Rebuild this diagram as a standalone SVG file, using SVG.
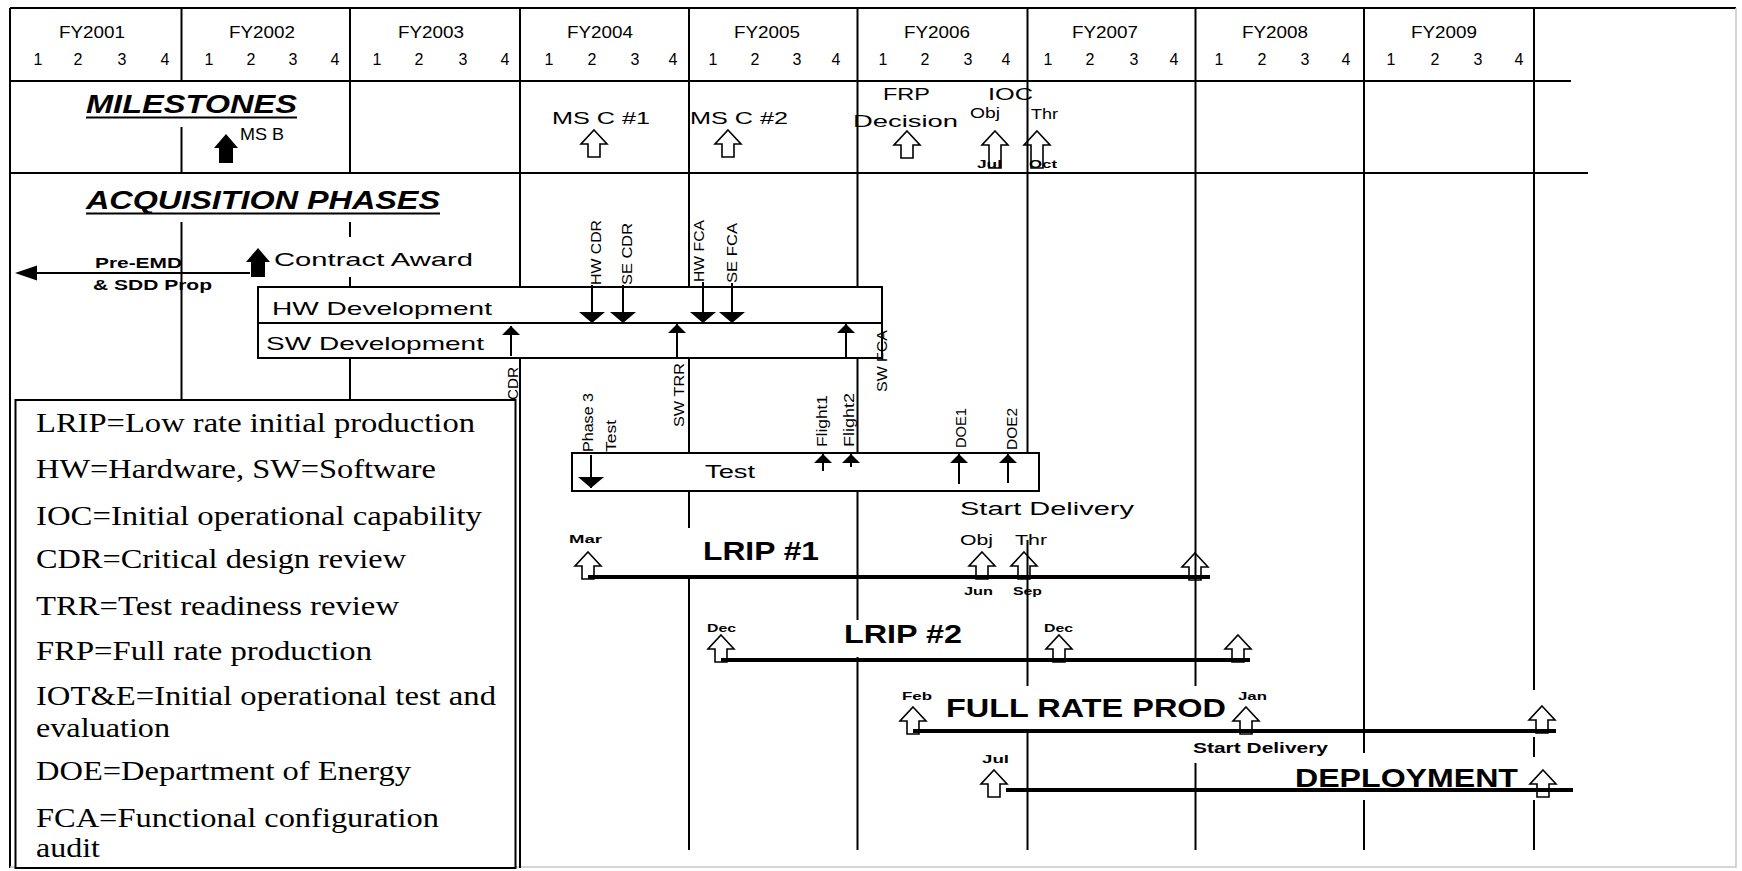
<svg xmlns="http://www.w3.org/2000/svg" xmlns:xlink="http://www.w3.org/1999/xlink" width="1742" height="871" viewBox="0 0 1742 871">
<style>
.ln{stroke:#000;stroke-width:2;fill:none}
.bar{stroke:#000;stroke-width:4;fill:none}
.box{stroke:#000;stroke-width:2;fill:#fff}
.s{font-family:"Liberation Sans",Arial,sans-serif;fill:#000}
.yr{font-size:17px;text-anchor:middle}
.q{font-size:16px;text-anchor:middle}
.hd{font-size:25px;font-weight:bold;font-style:italic}
.m{font-size:17px}
.sm{font-size:11px;font-weight:bold}
.rt{font-size:15px}
.big{font-size:26px;font-weight:bold}
.lg{font-family:"Liberation Serif","Times New Roman",serif;font-size:28px;fill:#000}
.ha{fill:none;stroke:#000;stroke-width:1.6}
</style>
<defs>
<path id="ha" d="M0,0 L13,14 L6,14 L6,27 L-6,27 L-6,14 L-13,14 Z"/>
<path id="hat" d="M0,0 L13,14 L6,14 L6,37 L-6,37 L-6,14 L-13,14 Z"/>
<path id="fa" d="M0,0 L12,14 L7,14 L7,29 L-7,29 L-7,14 L-12,14 Z"/>
<marker id="mb" viewBox="0 0 11 26" refX="11" refY="13" markerWidth="11" markerHeight="26" markerUnits="userSpaceOnUse" orient="auto"><path d="M0,0 L11,13 L0,26 Z"/></marker>
<marker id="ms" viewBox="0 0 9 18" refX="9" refY="9" markerWidth="9" markerHeight="18" markerUnits="userSpaceOnUse" orient="auto"><path d="M0,0 L9,9 L0,18 Z"/></marker>
</defs>
<rect width="1742" height="871" fill="#fff"/>

<g id="grid">
<path d="M10,8 H1736 M10,8 V868" class="ln"/>
<path d="M1736,8 V867 H10" stroke="#c8c8c8" stroke-width="1.5" fill="none"/>
<path d="M10,81 H1571 M10,173 H1588" class="ln"/>
<path class="ln" d="M181.5,9 V81 M181.5,127 V173 M181.5,222 V400
M350,9 V173 M350,222 V237 M350,277 V287 M350,358 V400
M520,9 V287 M520,358 V868
M689,9 V287 M689,358 V453 M689,490 V528 M689,575 V850
M857.5,9 V287 M857.5,358 V453 M857.5,490 V620 M857.5,657 V850
M1027.5,9 V453 M1027.5,540 V686 M1027.5,733 V850
M1195.5,9 V686 M1195.5,763 V850
M1364,9 V753 M1364,800 V850
M1534,9 V690 M1534,737 V757 M1534,800 V850"/>
</g>

<g id="header" class="s">
<text class="yr" x="92" y="38" textLength="66" lengthAdjust="spacingAndGlyphs">FY2001</text>
<text class="yr" x="262" y="38" textLength="66" lengthAdjust="spacingAndGlyphs">FY2002</text>
<text class="yr" x="431" y="38" textLength="66" lengthAdjust="spacingAndGlyphs">FY2003</text>
<text class="yr" x="600" y="38" textLength="66" lengthAdjust="spacingAndGlyphs">FY2004</text>
<text class="yr" x="767" y="38" textLength="66" lengthAdjust="spacingAndGlyphs">FY2005</text>
<text class="yr" x="937" y="38" textLength="66" lengthAdjust="spacingAndGlyphs">FY2006</text>
<text class="yr" x="1105" y="38" textLength="66" lengthAdjust="spacingAndGlyphs">FY2007</text>
<text class="yr" x="1275" y="38" textLength="66" lengthAdjust="spacingAndGlyphs">FY2008</text>
<text class="yr" x="1444" y="38" textLength="66" lengthAdjust="spacingAndGlyphs">FY2009</text>
<g class="q">
<text x="38" y="65">1</text><text x="78" y="65">2</text><text x="122" y="65">3</text><text x="165" y="65">4</text>
<text x="209" y="65">1</text><text x="251" y="65">2</text><text x="293" y="65">3</text><text x="335" y="65">4</text>
<text x="377" y="65">1</text><text x="419" y="65">2</text><text x="463" y="65">3</text><text x="505" y="65">4</text>
<text x="549" y="65">1</text><text x="592" y="65">2</text><text x="635" y="65">3</text><text x="673" y="65">4</text>
<text x="713" y="65">1</text><text x="755" y="65">2</text><text x="797" y="65">3</text><text x="836" y="65">4</text>
<text x="883" y="65">1</text><text x="925" y="65">2</text><text x="968" y="65">3</text><text x="1006" y="65">4</text>
<text x="1048" y="65">1</text><text x="1090" y="65">2</text><text x="1134" y="65">3</text><text x="1174" y="65">4</text>
<text x="1219" y="65">1</text><text x="1262" y="65">2</text><text x="1305" y="65">3</text><text x="1346" y="65">4</text>
<text x="1391" y="65">1</text><text x="1435" y="65">2</text><text x="1478" y="65">3</text><text x="1519" y="65">4</text>
</g>
</g>

<g id="milestones" class="s">
<text class="hd" x="86" y="113" textLength="211" lengthAdjust="spacingAndGlyphs">MILESTONES</text>
<path d="M86,117.5 H297" class="ln"/>
<use href="#fa" x="226" y="134"/>
<text class="m" x="240" y="140" font-size="16" textLength="44" lengthAdjust="spacingAndGlyphs">MS B</text>
<text class="m" x="552" y="124" textLength="98" lengthAdjust="spacingAndGlyphs">MS C #1</text>
<use href="#ha" x="594" y="130" class="ha"/>
<text class="m" x="690" y="124" textLength="98" lengthAdjust="spacingAndGlyphs">MS C #2</text>
<use href="#ha" x="728" y="130" class="ha"/>
<text class="m" x="883" y="100" textLength="47" lengthAdjust="spacingAndGlyphs">FRP</text>
<text class="m" x="853" y="127" textLength="105" lengthAdjust="spacingAndGlyphs">Decision</text>
<use href="#ha" x="907" y="131" class="ha"/>
<text class="m" x="988" y="100" textLength="45" lengthAdjust="spacingAndGlyphs">IOC</text>
<text x="970" y="118" font-size="14" textLength="30" lengthAdjust="spacingAndGlyphs">Obj</text>
<text x="1031" y="119" font-size="14" textLength="27" lengthAdjust="spacingAndGlyphs">Thr</text>
<use href="#hat" x="995" y="131" class="ha"/>
<use href="#hat" x="1037" y="131" class="ha"/>
<text class="sm" x="977" y="168" textLength="25" lengthAdjust="spacingAndGlyphs">Jul</text>
<text class="sm" x="1029" y="168" textLength="28" lengthAdjust="spacingAndGlyphs">Oct</text>
</g>

<g id="acquisition" class="s">
<text class="hd" x="86" y="209" textLength="354" lengthAdjust="spacingAndGlyphs">ACQUISITION PHASES</text>
<path d="M86,213.5 H440" class="ln"/>
<text x="95" y="268" font-size="14" font-weight="bold" textLength="87" lengthAdjust="spacingAndGlyphs">Pre-EMD</text>
<text x="93" y="290" font-size="14" font-weight="bold" textLength="119" lengthAdjust="spacingAndGlyphs">&amp; SDD Prop</text>
<text x="274" y="266" font-size="19" textLength="199" lengthAdjust="spacingAndGlyphs">Contract Award</text>
</g>

<g id="hw-development">
<rect x="258" y="287" width="624" height="36" class="box"/>
<text class="s" x="272" y="315" font-size="19" textLength="220" lengthAdjust="spacingAndGlyphs">HW Development</text>
</g>
<g id="sw-development">
<rect x="258" y="323" width="624" height="35" class="box"/>
<text class="s" x="266" y="350" font-size="19" textLength="218" lengthAdjust="spacingAndGlyphs">SW Development</text>
</g>
<g id="test">
<rect x="572" y="453" width="467" height="38" class="box"/>
<text class="s" x="730" y="478" font-size="19" text-anchor="middle" textLength="50" lengthAdjust="spacingAndGlyphs">Test</text>
</g>

<g id="event-labels" class="s rt">
<text transform="translate(601,285) rotate(-90)" textLength="65" lengthAdjust="spacingAndGlyphs">HW CDR</text>
<text transform="translate(632,285) rotate(-90)" textLength="62" lengthAdjust="spacingAndGlyphs">SE CDR</text>
<text transform="translate(704,282) rotate(-90)" textLength="62" lengthAdjust="spacingAndGlyphs">HW FCA</text>
<text transform="translate(737,283) rotate(-90)" textLength="60" lengthAdjust="spacingAndGlyphs">SE FCA</text>
<text transform="translate(518,400) rotate(-90)" textLength="33" lengthAdjust="spacingAndGlyphs">CDR</text>
<text transform="translate(684,427) rotate(-90)" textLength="64" lengthAdjust="spacingAndGlyphs">SW TRR</text>
<text transform="translate(887,392) rotate(-90)" textLength="62" lengthAdjust="spacingAndGlyphs">SW FCA</text>
<text transform="translate(593,452) rotate(-90)" textLength="59" lengthAdjust="spacingAndGlyphs">Phase 3</text>
<text transform="translate(616,452) rotate(-90)" textLength="32" lengthAdjust="spacingAndGlyphs">Test</text>
<text transform="translate(827,447) rotate(-90)" textLength="52" lengthAdjust="spacingAndGlyphs">Flight1</text>
<text transform="translate(854,447) rotate(-90)" textLength="54" lengthAdjust="spacingAndGlyphs">Flight2</text>
<text transform="translate(966,448) rotate(-90)" textLength="40" lengthAdjust="spacingAndGlyphs">DOE1</text>
<text transform="translate(1017,450) rotate(-90)" textLength="42" lengthAdjust="spacingAndGlyphs">DOE2</text>
</g>

<g id="lrip1" class="s">
<text x="960" y="515" font-size="18" textLength="174" lengthAdjust="spacingAndGlyphs">Start Delivery</text>
<text class="sm" x="569" y="543" textLength="33" lengthAdjust="spacingAndGlyphs">Mar</text>
<text class="big" x="703" y="560" textLength="116" lengthAdjust="spacingAndGlyphs">LRIP #1</text>
<text x="960" y="545" font-size="14" textLength="33" lengthAdjust="spacingAndGlyphs">Obj</text>
<text x="1015" y="545" font-size="14" textLength="32" lengthAdjust="spacingAndGlyphs">Thr</text>
<text class="sm" x="964" y="595" textLength="29" lengthAdjust="spacingAndGlyphs">Jun</text>
<text class="sm" x="1013" y="595" textLength="29" lengthAdjust="spacingAndGlyphs">Sep</text>
<path d="M588,577 H1210" class="bar"/>
<use href="#ha" x="588" y="552" class="ha"/>
<use href="#ha" x="982" y="552" class="ha"/>
<use href="#ha" x="1024" y="552" class="ha"/>
<use href="#ha" x="1195" y="553" class="ha"/>
</g>

<g id="lrip2" class="s">
<text class="sm" x="707" y="632" textLength="29" lengthAdjust="spacingAndGlyphs">Dec</text>
<text class="big" x="844" y="643" textLength="118" lengthAdjust="spacingAndGlyphs">LRIP #2</text>
<text class="sm" x="1044" y="632" textLength="29" lengthAdjust="spacingAndGlyphs">Dec</text>
<path d="M721,660 H1250" class="bar"/>
<use href="#ha" x="721" y="635" class="ha"/>
<use href="#ha" x="1059" y="635" class="ha"/>
<use href="#ha" x="1238" y="635" class="ha"/>
</g>

<g id="full-rate-prod" class="s">
<text class="sm" x="902" y="700" textLength="30" lengthAdjust="spacingAndGlyphs">Feb</text>
<text class="big" x="946" y="717" textLength="280" lengthAdjust="spacingAndGlyphs">FULL RATE PROD</text>
<text class="sm" x="1238" y="700" textLength="29" lengthAdjust="spacingAndGlyphs">Jan</text>
<text x="1193" y="753" font-size="14" font-weight="bold" textLength="135" lengthAdjust="spacingAndGlyphs">Start Delivery</text>
<path d="M913,731 H1556" class="bar"/>
<use href="#ha" x="913" y="707" class="ha"/>
<use href="#ha" x="1246" y="707" class="ha"/>
<use href="#ha" x="1542" y="706" class="ha"/>
</g>

<g id="deployment" class="s">
<text class="sm" x="982" y="763" textLength="27" lengthAdjust="spacingAndGlyphs">Jul</text>
<text class="big" x="1295" y="787" textLength="223" lengthAdjust="spacingAndGlyphs">DEPLOYMENT</text>
<path d="M1006,790 H1573" class="bar"/>
<use href="#ha" x="994" y="770" class="ha"/>
<use href="#ha" x="1543" y="770" class="ha"/>
</g>

<g id="connectors" class="ln">
<path d="M37,273 H250"/>
<polygon points="15,273 37,265.5 37,280.5" fill="#000" stroke="none"/>
<use href="#fa" x="258" y="248" fill="#000" stroke="none"/>
<path d="M592,285 V323" marker-end="url(#mb)"/>
<path d="M623,285 V323" marker-end="url(#mb)"/>
<path d="M703,282 V323" marker-end="url(#mb)"/>
<path d="M732,283 V323" marker-end="url(#mb)"/>
<path d="M511,356 V326" marker-end="url(#ms)"/>
<path d="M677,358 V324" marker-end="url(#ms)"/>
<path d="M846,358 V324" marker-end="url(#ms)"/>
<path d="M591,455 V488" marker-end="url(#mb)"/>
<path d="M823,471 V454" marker-end="url(#ms)"/>
<path d="M851,467 V454" marker-end="url(#ms)"/>
<path d="M959,484 V454" marker-end="url(#ms)"/>
<path d="M1008,483 V454" marker-end="url(#ms)"/>
</g>

<g id="legend">
<rect x="15.5" y="400" width="500" height="468" class="box"/>
<g class="lg">
<text x="36" y="432" textLength="439" lengthAdjust="spacingAndGlyphs">LRIP=Low rate initial production</text>
<text x="36" y="478" textLength="400" lengthAdjust="spacingAndGlyphs">HW=Hardware, SW=Software</text>
<text x="36" y="525" textLength="446" lengthAdjust="spacingAndGlyphs">IOC=Initial operational capability</text>
<text x="36" y="568" textLength="370" lengthAdjust="spacingAndGlyphs">CDR=Critical design review</text>
<text x="36" y="615" textLength="363" lengthAdjust="spacingAndGlyphs">TRR=Test readiness review</text>
<text x="36" y="660" textLength="336" lengthAdjust="spacingAndGlyphs">FRP=Full rate production</text>
<text x="36" y="705" textLength="460" lengthAdjust="spacingAndGlyphs">IOT&amp;E=Initial operational test and</text>
<text x="36" y="737" textLength="134" lengthAdjust="spacingAndGlyphs">evaluation</text>
<text x="36" y="780" textLength="375" lengthAdjust="spacingAndGlyphs">DOE=Department of Energy</text>
<text x="36" y="827" textLength="403" lengthAdjust="spacingAndGlyphs">FCA=Functional configuration</text>
<text x="36" y="857" textLength="64" lengthAdjust="spacingAndGlyphs">audit</text>
</g>
</g>
</svg>
